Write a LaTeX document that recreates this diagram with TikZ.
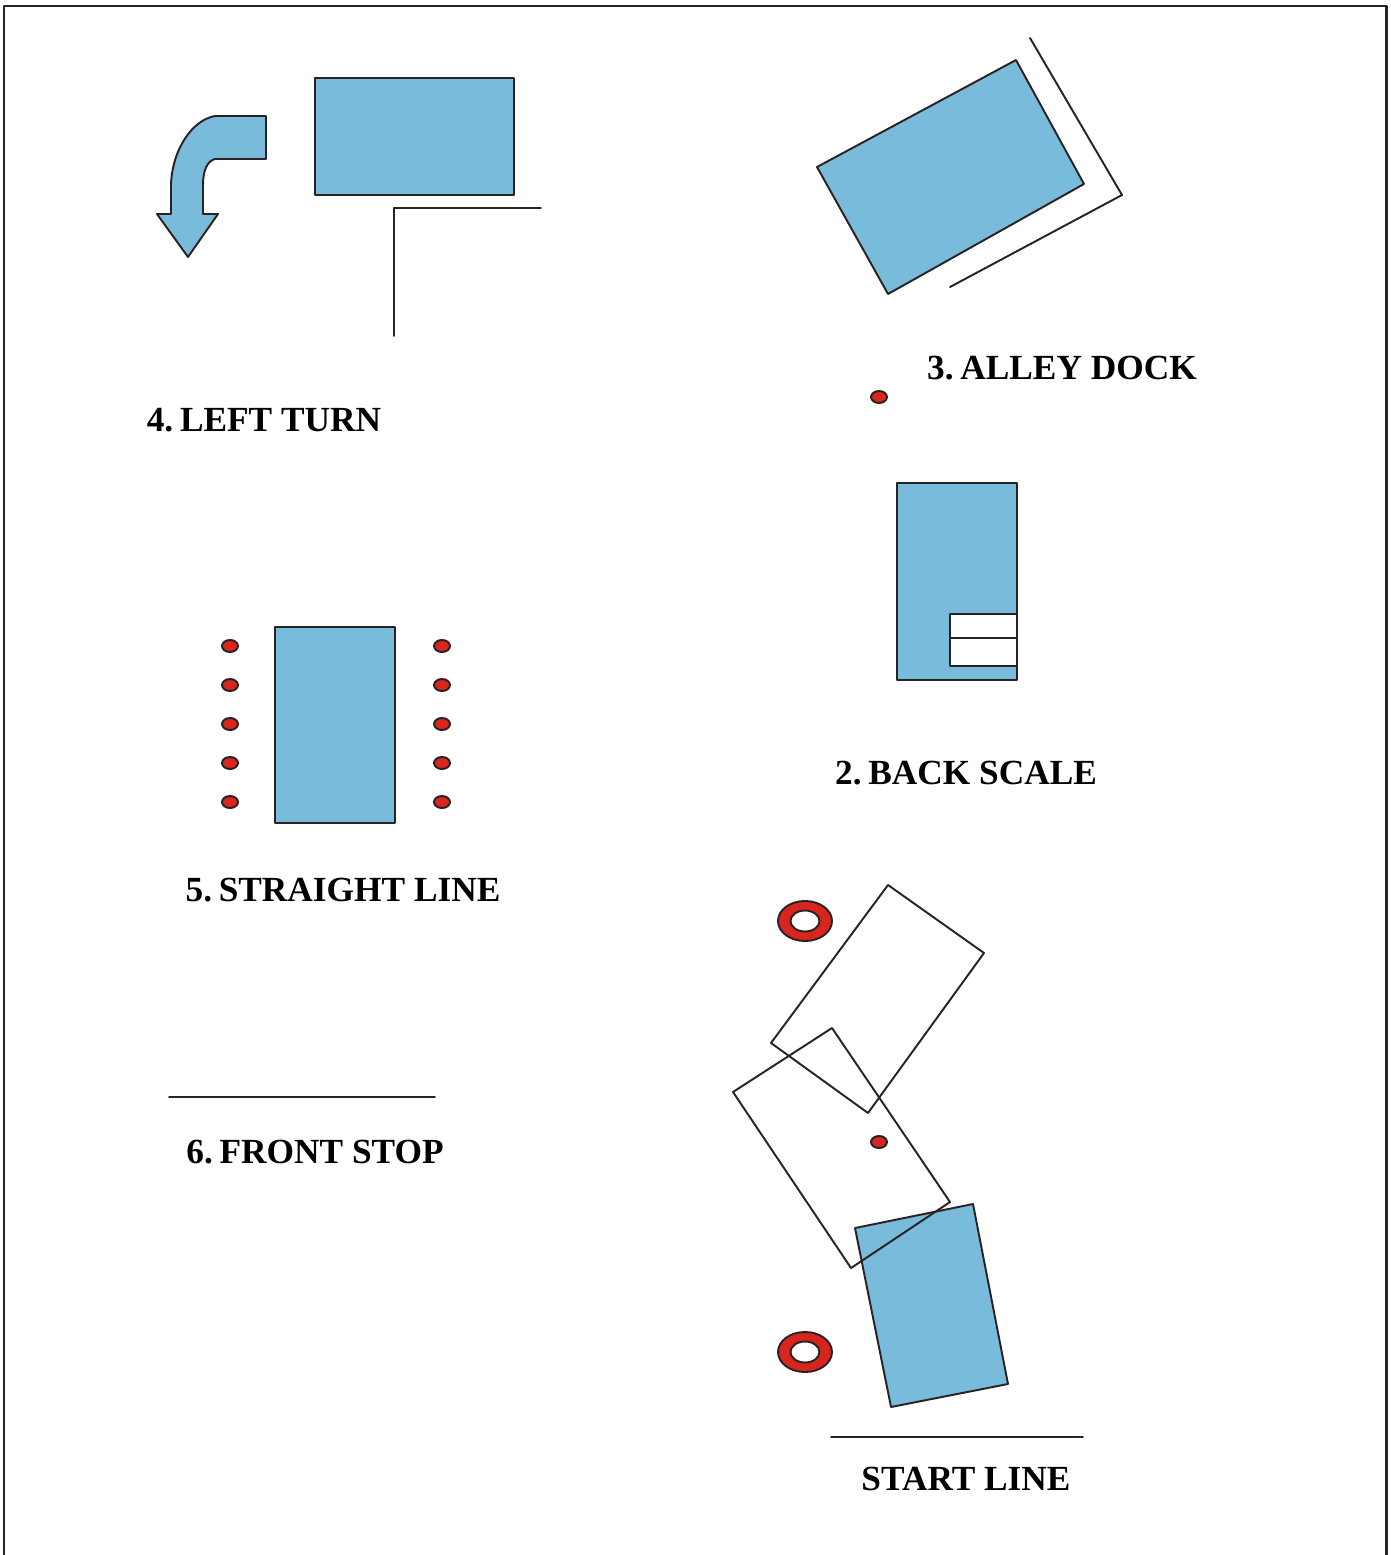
\documentclass[tikz,border=0pt]{standalone}
\usepackage{fontspec}
\setmainfont{Liberation Serif}
\definecolor{truckblue}{HTML}{78BBDB}
\definecolor{conered}{HTML}{D8261E}
\definecolor{inkline}{HTML}{2A2222}
\newcommand{\numgap}{\hspace{0.19em}}
\tikzset{
  outline/.style={draw=inkline, line width=1.1pt},
  truck/.style={outline, fill=truckblue},
  cone/.style={outline, fill=conered},
  caption/.style={font=\bfseries\fontsize{20.1}{24}\selectfont, text=black, inner sep=0pt}
}
\begin{document}
\begin{tikzpicture}[x=0.02cm, y=-0.02cm, line cap=round, line join=round]
  \useasboundingbox (0,0) rectangle (1390,1555);
  % the page frame, open at the bottom
  \draw[inkline, line width=1.7pt] (4,1555) -- (4,6) -- (1386,6) -- (1386,1555);
  % left turn
  \draw[truck] (315,78) rectangle (514,195);
  \draw[outline] (541,208) -- (394,208) -- (394,336);
  \draw[truck] (266,116) -- (266,159) -- (215,159)
    .. controls (207,161) and (203,171) .. (203,185) -- (203,214) -- (218,214)
    -- (188,257) -- (157,214) -- (171,214) -- (171,185)
    .. controls (172,150) and (192,120) .. (215,116) -- cycle;
  \node[caption] (leftturn) at (264,420) {4.\numgap LEFT TURN};
  % alley dock
  \draw[truck] (1016,60) -- (1084,184) -- (888,294) -- (817,167) -- cycle;
  \draw[outline] (1030,38) -- (1122,195) -- (950,287);
  \node[caption] (alleydock) at (1062,368) {3.\numgap ALLEY DOCK};
  \draw[cone] (879,397) ellipse (8 and 6);
  % back scale
  \draw[truck] (897,483) rectangle (1017,680);
  \draw[outline, fill=white] (950,614) rectangle (1017,638);
  \draw[outline, fill=white] (950,638) rectangle (1017,666);
  \node[caption] (backscale) at (966,773) {2.\numgap BACK SCALE};
  % straight line
  \draw[truck] (275,627) rectangle (395,823);
  \foreach \y in {646,685,724,763,802} {
    \draw[cone] (230,\y) ellipse (8 and 6);
    \draw[cone] (442,\y) ellipse (8 and 6);
  }
  \node[caption] (straightline) at (343,890) {5.\numgap STRAIGHT LINE};
  % front stop
  \draw[outline] (169,1097) -- (435,1097);
  \node[caption] (frontstop) at (315,1152) {6.\numgap FRONT STOP};
  % the offset pieces, blue one on the bottom
  \draw[truck] (855,1228) -- (973,1204) -- (1008,1384) -- (891,1407) -- cycle;
  \draw[outline] (888,885) -- (984,953) -- (868,1113) -- (771,1043) -- cycle;
  \draw[outline] (832,1028) -- (950,1202) -- (851,1268) -- (733,1092) -- cycle;
  \draw[cone] (879,1142) ellipse (8 and 6);
  \foreach \y in {921,1352} {
    \draw[cone, even odd rule] (805,\y) ellipse (27 and 20) (805,\y) ellipse (14.5 and 10.5);
  }
  \draw[outline] (831,1437) -- (1083,1437);
  \node[caption] (startline) at (966,1479) {START LINE};
\end{tikzpicture}
\end{document}
